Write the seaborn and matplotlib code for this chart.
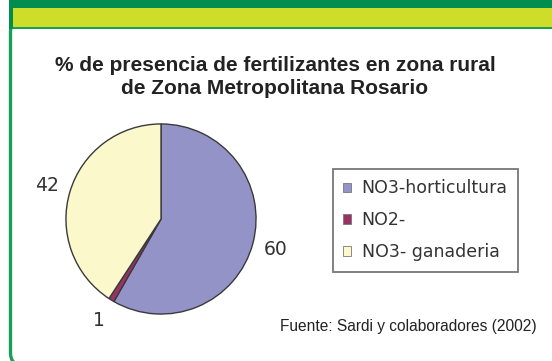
import matplotlib
matplotlib.use("Agg")
import matplotlib.pyplot as plt
from matplotlib.patches import Rectangle, FancyBboxPatch, Patch
import seaborn as sns

# Fertiliser presence data (Sardi y colaboradores, 2002)
categories = ["NO3-horticultura", "NO2-", "NO3- ganaderia"]
values = [60, 1, 42]
colors = ["#9393c8", "#993366", "#fbf8cc"]

title = "% de presencia de fertilizantes en zona rural\nde Zona Metropolitana Rosario"
source = "Fuente: Sardi y colaboradores (2002)"

sns.set_theme(style="white")
plt.rcParams["font.family"] = ["Liberation Sans", "DejaVu Sans"]

W, H = 552, 361
fig = plt.figure(figsize=(W / 100, H / 100), dpi=100)
fig.patch.set_facecolor("white")

# Frame layer in pixel coordinates
bg = fig.add_axes([0, 0, 1, 1])
bg.set_xlim(0, W)
bg.set_ylim(H, 0)
bg.axis("off")
bg.add_patch(FancyBboxPatch((10.5, 20), W + 40, H - 16,
                            boxstyle="round,pad=0,rounding_size=12",
                            facecolor="white", edgecolor="#1a9f5b", linewidth=2.4))
bg.add_patch(Rectangle((9, 0), W, 7.5, facecolor="#008d4e", edgecolor="none"))
bg.add_patch(Rectangle((9, 7.5), W, 19, facecolor="#cedc2a", edgecolor="none"))
bg.add_patch(Rectangle((9, 26.5), W, 2.5, facecolor="#1a9f5b", edgecolor="none"))
bg.add_patch(Rectangle((9, 0), 3.5, 29, facecolor="#008d4e", edgecolor="none"))

bg.text(275, 77, title, ha="center", va="center", fontsize=15,
        fontweight="bold", color="#222222", linespacing=1.25)
bg.text(537, 327, source, ha="right", va="center", fontsize=11.2, color="#222222")

# Pie
cx, cy, r = 161, 219, 96
ax = fig.add_axes([(cx - r) / W, (H - cy - r) / H, 2 * r / W, 2 * r / H])
wedges, texts = ax.pie(values, colors=colors, startangle=90, counterclock=False,
                       labels=[str(v) for v in values], labeldistance=1.25,
                       wedgeprops=dict(edgecolor="#3a3a3a", linewidth=1.0),
                       textprops=dict(fontsize=13.5, color="#333333",
                                      family=["DejaVu Sans"]))
for t in texts:
    t.set_ha("center")
    t.set_va("center")
ax.set_xlim(-1.01, 1.01)
ax.set_ylim(-1.01, 1.01)
ax.set_aspect("equal")

handles = [Patch(facecolor=c, edgecolor="#777777", linewidth=0.6) for c in colors]
leg = fig.legend(handles, categories, loc="upper left",
                 bbox_to_anchor=(333 / W, 1 - 169 / H), frameon=True,
                 fancybox=False, edgecolor="#555555",
                 prop=dict(family=["DejaVu Sans"], size=12.5),
                 handlelength=0.45, handleheight=0.45, handletextpad=0.6,
                 labelspacing=0.8, borderpad=0.6, borderaxespad=0)
leg.get_frame().set_linewidth(1.3)
for t in leg.get_texts():
    t.set_color("#333333")

fig.savefig("out.png", dpi=100)
